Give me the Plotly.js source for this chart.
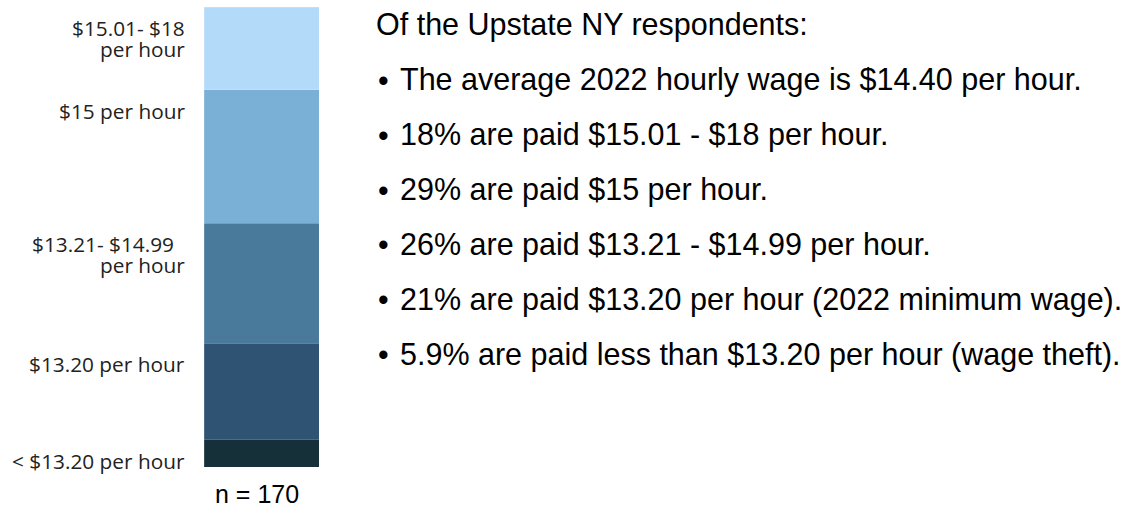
<!DOCTYPE html>
<html>
<head>
<meta charset="utf-8">
<script src="https://cdn.plot.ly/plotly-3.0.1.min.js"></script>
<style>html,body{margin:0;padding:0;background:#fff;}#chart{width:1130px;height:508px;}</style>
</head>
<body>
<div id="chart"></div>
<script>
// Data (bottom of stack first)
const categories = ['< $13.20 per hour', '$13.20 per hour', '$13.21- $14.99 per hour', '$15 per hour', '$15.01- $18 per hour'];
const labelLines = [['< $13.20 per hour'], ['$13.20 per hour'], ['$13.21- $14.99\u00a0\u00a0', 'per hour'], ['$15 per hour'], ['$15.01- $18', 'per hour']];
const shares = [5.9, 21, 26, 29, 18];
const colors = ['#163039', '#2e5373', '#4a7a9b', '#7aafd6', '#b4dafa'];
const sampleLabel = 'n = 170';
const headline = 'Of the Upstate NY respondents:';
const bullets = [
  'The average 2022 hourly wage is $14.40 per hour.',
  '18% are paid $15.01 - $18 per hour.',
  '29% are paid $15 per hour.',
  '26% are paid $13.21 - $14.99 per hour.',
  '21% are paid $13.20 per hour (2022 minimum wage).',
  '5.9% are paid less than $13.20 per hour (wage theft).'
];

const W = 1130, H = 508, T = 7, B = 41;
const total = shares.reduce((a, b) => a + b, 0);

const traces = categories.map((c, i) => ({
  type: 'bar',
  x: [sampleLabel],
  y: [shares[i]],
  name: c,
  marker: {color: colors[i], line: {color: 'rgba(255,255,255,0.25)', width: 0.6}},
  hoverinfo: 'name+y'
}));

const annotations = [];
let cum = 0;
const tops = shares.map(v => (cum += v));
labelLines.forEach((lines, i) => {
  lines.forEach((line, j) => {
    annotations.push({
      xref: 'paper', x: 186 / W, xanchor: 'right',
      yref: 'y', y: tops[i], yanchor: 'middle', yshift: -21 - 21 * j,
      text: line, showarrow: false, borderpad: 0,
      font: {family: 'Open Sans', size: 20.8, color: '#222'}
    });
  });
});
const pyFrac = px => (H - B - px) / (H - T - B);
const rightFont = {family: 'Liberation Sans, Arial', size: 30.5, color: '#000'};
annotations.push({
  xref: 'paper', x: 375 / W, xanchor: 'left',
  yref: 'paper', y: pyFrac(24), yanchor: 'middle',
  text: headline, showarrow: false, borderpad: 0, font: rightFont
});
bullets.forEach((b, k) => {
  const yy = pyFrac(80 + 54.8 * k);
  annotations.push({
    xref: 'paper', x: 377 / W, xanchor: 'left',
    yref: 'paper', y: yy, yanchor: 'middle',
    text: '\u2022', showarrow: false, borderpad: 0, font: rightFont
  });
  annotations.push({
    xref: 'paper', x: 399 / W, xanchor: 'left',
    yref: 'paper', y: yy, yanchor: 'middle',
    text: b, showarrow: false, borderpad: 0, font: rightFont
  });
});
annotations.push({
  xref: 'x', x: sampleLabel, xshift: -5,
  yref: 'paper', y: pyFrac(493.5), yanchor: 'middle',
  text: sampleLabel, showarrow: false, borderpad: 0,
  font: {family: 'Liberation Sans, Arial', size: 25, color: '#000'}
});

const layout = {
  width: W, height: H,
  margin: {l: 0, r: 0, t: T, b: B, pad: 0},
  paper_bgcolor: '#fff', plot_bgcolor: '#fff',
  barmode: 'stack', bargap: 0, showlegend: false,
  xaxis: {domain: [204 / W, 319 / W], range: [-0.5, 0.5], visible: false, fixedrange: true},
  yaxis: {range: [0, total], visible: false, fixedrange: true},
  annotations: annotations
};

Plotly.newPlot('chart', traces, layout, {displayModeBar: false, staticPlot: true});
</script>
</body>
</html>
